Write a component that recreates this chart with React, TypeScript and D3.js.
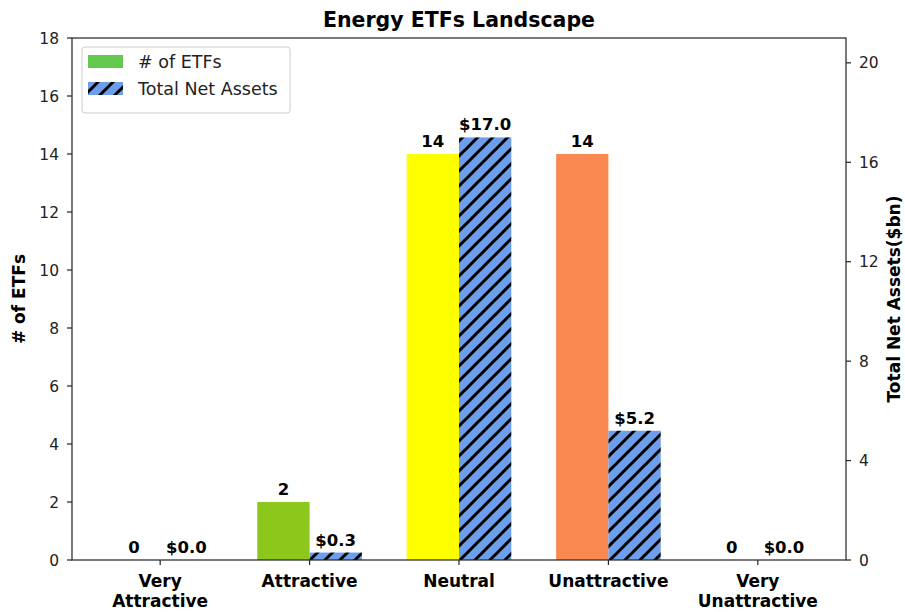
import React from "react";
import * as d3 from "d3";

const categories = ["Very\nAttractive", "Attractive", "Neutral", "Unattractive", "Very\nUnattractive"];
const etfCounts = [0, 2, 14, 14, 0];
const netAssets = [0.0, 0.3, 17.0, 5.2, 0.0];
const countColors = ["#63c94f", "#8dc71b", "#ffff00", "#f98950", "#63c94f"];
const assetColor = "#6d9eeb";
const leftTicks = [0, 2, 4, 6, 8, 10, 12, 14, 16, 18];
const rightTicks = [0, 4, 8, 12, 16, 20];

const W = 905, H = 612;
const L = 72, R = 846, T = 38, B = 560;
const FONT = "DejaVu Sans, sans-serif";

export default function App() {
  const x = d3.scaleLinear().domain([-0.59, 4.59]).range([L, R]);
  const yL = d3.scaleLinear().domain([0, 18]).range([B, T]);
  const yR = d3.scaleLinear().domain([0, 21]).range([B, T]);
  const bw = x(0.35) - x(0);
  const P = 15;

  return (
    <svg width={W} height={H} style={{ position: "absolute", left: 0, top: 0, background: "#fff" }} fontFamily={FONT}>
      <defs>
        <pattern id="hatch" patternUnits="userSpaceOnUse" width={P} height={P}>
          <rect width={P} height={P} fill={assetColor} />
          <path d={`M${-P},${P} L${P},${-P} M${-P},${2 * P} L${2 * P},${-P} M0,${2 * P} L${2 * P},0`} stroke="#000" strokeWidth={3} />
        </pattern>
      </defs>
      <text x={(L + R) / 2} y={27} textAnchor="middle" fontSize={20.5} fontWeight="bold" fill="#000">Energy ETFs Landscape</text>

      {/* bars */}
      {categories.map((c, i) => (
        <g key={c}>
          {etfCounts[i] > 0 && (
            <rect x={x(i) - bw} y={yL(etfCounts[i])} width={bw} height={B - yL(etfCounts[i])} fill={countColors[i]} />
          )}
          {netAssets[i] > 0 && (
            <rect x={x(i)} y={yR(netAssets[i])} width={bw} height={B - yR(netAssets[i])} fill="url(#hatch)" />
          )}
          <text x={x(i) - bw / 2} y={yL(etfCounts[i]) - 7.5} textAnchor="middle" fontSize={16.5} fontWeight="bold" fill="#000">{etfCounts[i]}</text>
          <text x={x(i) + bw / 2} y={yR(netAssets[i]) - 7} textAnchor="middle" fontSize={16.5} fontWeight="bold" fill="#000">{"$" + netAssets[i].toFixed(1)}</text>
        </g>
      ))}

      {/* frame */}
      <rect x={L} y={T} width={R - L} height={B - T} fill="none" stroke="#222" strokeWidth={1.2} />

      {/* left axis */}
      {leftTicks.map((t) => (
        <g key={"l" + t}>
          <line x1={L - 5} x2={L} y1={yL(t)} y2={yL(t)} stroke="#222" strokeWidth={1.2} />
          <text x={L - 13} y={yL(t)} dy="0.36em" textAnchor="end" fontSize={15.5} fill="#222">{t}</text>
        </g>
      ))}
      {/* right axis */}
      {rightTicks.map((t) => (
        <g key={"r" + t}>
          <line x1={R} x2={R + 5} y1={yR(t)} y2={yR(t)} stroke="#222" strokeWidth={1.2} />
          <text x={R + 13} y={yR(t)} dy="0.36em" textAnchor="start" fontSize={15.5} fill="#222">{t}</text>
        </g>
      ))}
      {/* x axis */}
      {categories.map((c, i) => (
        <g key={"x" + i}>
          <line x1={x(i)} x2={x(i)} y1={B} y2={B + 5} stroke="#222" strokeWidth={1.2} />
          {c.split("\n").map((ln, j) => (
            <text key={j} x={x(i)} y={587 + j * 20} textAnchor="middle" fontSize={17} fontWeight="bold" fill="#000">{ln}</text>
          ))}
        </g>
      ))}

      <text transform={`translate(25,${(T + B) / 2}) rotate(-90)`} textAnchor="middle" fontSize={17} fontWeight="bold" fill="#000">{"# of ETFs"}</text>
      <text transform={`translate(900,${(T + B) / 2}) rotate(-90)`} textAnchor="middle" fontSize={17} fontWeight="bold" fill="#000">Total Net Assets($bn)</text>

      {/* legend */}
      <rect x={82} y={47} width={208} height={66} rx={3} fill="#fff" fillOpacity={0.8} stroke="#ccc" strokeWidth={1} />
      <rect x={88} y={55} width={35} height={13} fill="#63c94f" />
      <text x={138} y={62} dy="0.36em" fontSize={17.5} fill="#222"># of ETFs</text>
      <rect x={88} y={82} width={35} height={13} fill="url(#hatch)" />
      <text x={138} y={89} dy="0.36em" fontSize={17.5} fill="#222">Total Net Assets</text>
    </svg>
  );
}
